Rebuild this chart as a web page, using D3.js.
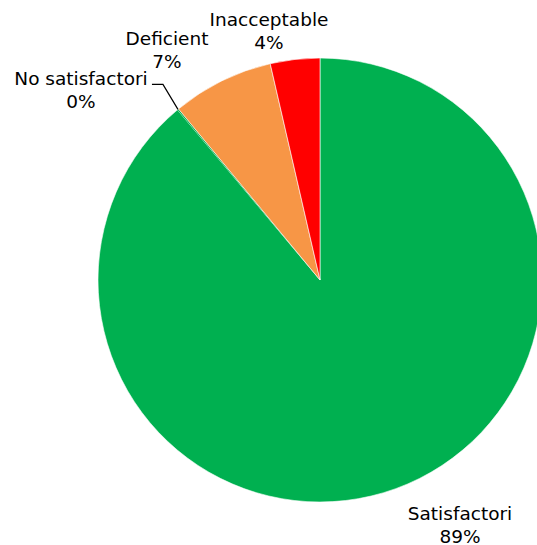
<!DOCTYPE html>
<html>
<head>
<meta charset="utf-8">
<script src="https://cdn.jsdelivr.net/npm/d3@7"></script>
<style>
  body { margin: 0; background: #fff; }
  text { font-family: Verdana, "DejaVu Sans", sans-serif; font-size: 18.5px; fill: #000; }
</style>
</head>
<body>
<svg id="chart" width="537" height="545"></svg>
<script>
const categories = ["Satisfactori", "No satisfactori", "Deficient", "Inacceptable"];
const values = [88.9, 0.1, 7.4, 3.6];
const colors = ["#00B050", "#00B050", "#F79646", "#FF0000"];

// label anchors (centre x, baseline of the first line), set by hand like the original
const labelPos = [[460, 520], [81, 85], [167, 45], [269, 26]];

const svg = d3.select("#chart");
const cx = 320, cy = 280, radius = 222;

const pie = d3.pie().sort(null).value(d => d.value);
const arc = d3.arc().innerRadius(0).outerRadius(radius);

const data = categories.map((c, i) => ({ name: c, value: values[i], color: colors[i] }));
const arcs = pie(data);

const g = svg.append("g").attr("transform", `translate(${cx},${cy})`);

g.selectAll("path")
    .data(arcs)
    .enter().append("path")
    .attr("d", arc)
    .attr("fill", d => d.data.color)
    .attr("stroke", d => d.data.value < 1 ? "none" : "#fff")
    .attr("stroke-width", 0.6);

// leader line for the tiny slice
const small = arcs[1];
const mid = (small.startAngle + small.endAngle) / 2;
const px = cx + Math.sin(mid) * radius, py = cy - Math.cos(mid) * radius;
svg.append("polyline")
    .attr("points", `${px},${py} ${px - 15},${py - 25} ${px - 26},${py - 25}`)
    .attr("fill", "none")
    .attr("stroke", "#000")
    .attr("stroke-width", 1.2);

const fmt = v => Math.round(v) + "%";
const labels = svg.selectAll("g.lbl")
    .data(arcs)
    .enter().append("g")
    .attr("class", "lbl")
    .attr("transform", (d, i) => `translate(${labelPos[i][0]},${labelPos[i][1]})`);

labels.append("text")
    .attr("text-anchor", "middle")
    .text(d => d.data.name);
labels.append("text")
    .attr("text-anchor", "middle")
    .attr("y", 22.5)
    .text(d => fmt(d.data.value));
</script>
</body>
</html>
